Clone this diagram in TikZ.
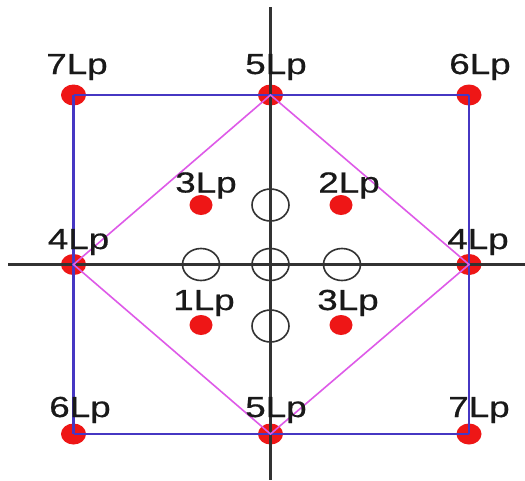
\documentclass[tikz,border=0pt]{standalone}
\usepackage{fontspec}
\newfontfamily\lblfont[FakeStretch=1.27,FakeBold=0.6]{Liberation Sans}
\usetikzlibrary{shapes.geometric}
\definecolor{sqblue}{RGB}{70,55,195}
\definecolor{dmag}{RGB}{222,90,232}
\definecolor{dotred}{RGB}{238,22,22}
\definecolor{axisgray}{RGB}{50,50,50}
\tikzset{
  bigdot/.style={ellipse,fill=dotred,draw=none,minimum width=25pt,minimum height=21pt,inner sep=0pt},
  smalldot/.style={ellipse,fill=dotred,draw=none,minimum width=23pt,minimum height=20pt,inner sep=0pt},
  ring/.style={ellipse,draw=axisgray,line width=1.6pt,minimum width=37pt,minimum height=32pt,inner sep=0pt},
  lbl/.style={font=\lblfont\fontsize{29}{29}\selectfont,anchor=base,inner sep=0pt,text=black!90},
  sqline/.style={draw=sqblue,line width=2.2pt},
  dmline/.style={draw=dmag,line width=1.6pt},
  axline/.style={draw=axisgray,line width=2.2pt}
}
\begin{document}
\begin{tikzpicture}[x=1pt,y=-1pt]
\useasboundingbox (0,0) rectangle (525,480);
\fill[white] (0,0) rectangle (525,480);
% axes end points
\coordinate (vt) at (270.5,7);
\coordinate (vb) at (270.5,480);
\coordinate (hl) at (8,264.5);
\coordinate (hr) at (525,264.5);
% big dots
\node[bigdot] (tl) at (73.5,95) {};
\node[bigdot] (tm) at (270.5,95) {};
\node[bigdot] (tr) at (469,95) {};
\node[bigdot] (ml) at (73.5,264.5) {};
\node[bigdot] (mr) at (469,264.5) {};
\node[bigdot] (bl) at (73.5,434) {};
\node[bigdot] (bm) at (270.5,434) {};
\node[bigdot] (br) at (469,434) {};
% inner dots
\node[smalldot] (i1) at (201,205) {};
\node[smalldot] (i2) at (341,205) {};
\node[smalldot] (i3) at (201,325) {};
\node[smalldot] (i4) at (341,325) {};
% axes
\draw[axline] (vt) -- (vb);
\draw[axline] (hl) -- (hr);
% rings
\node[ring] (rt) at (270.5,205) {};
\node[ring] (rb) at (270.5,326) {};
\node[ring] (rl) at (201,264.5) {};
\node[ring] (rc) at (270.5,264.5) {};
\node[ring] (rr) at (342,264.5) {};
% square
\draw[sqline] (tl.center) -- (tm.center) -- (tr.center);
\draw[sqline] (tr.center) -- (mr.center) -- (br.center);
\draw[sqline] (br.center) -- (bm.center) -- (bl.center);
\draw[sqline] (bl.center) -- (ml.center) -- (tl.center);
% diamond
\draw[dmline] (tm.center) -- (mr.center) -- (bm.center) -- (ml.center) -- cycle;
% labels
\node[lbl] (l1) at (77,74) {7Lp};
\node[lbl] (l2) at (276,74) {5Lp};
\node[lbl] (l3) at (480,74) {6Lp};
\node[lbl] (l4) at (206,192.5) {3Lp};
\node[lbl] (l5) at (349,192.5) {2Lp};
\node[lbl] (l6) at (78.5,249) {4Lp};
\node[lbl] (l7) at (478,249) {4Lp};
\node[lbl] (l8) at (204,310) {1Lp};
\node[lbl] (l9) at (348,310) {3Lp};
\node[lbl] (l10) at (80,417) {6Lp};
\node[lbl] (l11) at (276,417) {5Lp};
\node[lbl] (l12) at (479,417) {7Lp};
\end{tikzpicture}
\end{document}
